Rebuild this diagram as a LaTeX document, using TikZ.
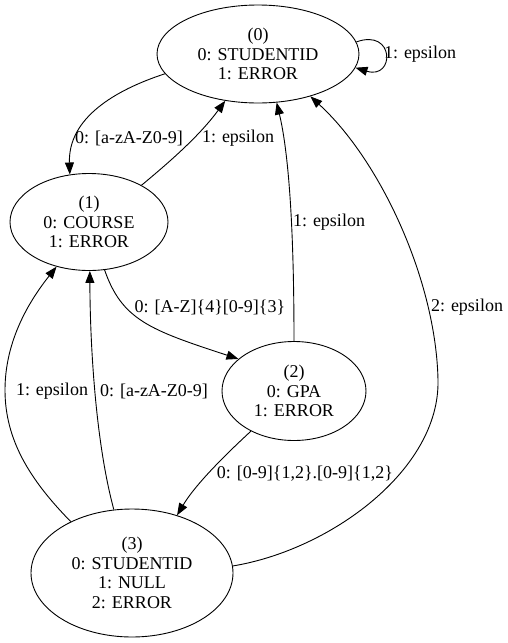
\documentclass[tikz,border=0pt]{standalone}
\usepackage{fontspec}
\setmainfont{Liberation Serif}
\usetikzlibrary{arrows.meta,shapes.geometric}

\begin{document}
\begin{tikzpicture}[x=1pt, y=-1pt, line width=0.9pt,
  state/.style={draw, ellipse, inner sep=0pt, align=center,
                font=\fontsize{18}{19.5}\selectfont},
  lab/.style={inner sep=0pt, font=\fontsize{18}{19.5}\selectfont},
  >={Triangle[length=12pt, width=9pt]}]
  \useasboundingbox (0,0) rectangle (508,643);
  % 状態
  \node[state, minimum width=202pt, minimum height=98pt]  (s0) at (258, 54)  {(0)\\0: STUDENTID\\1: ERROR};
  \node[state, minimum width=158pt, minimum height=97pt]  (s1) at (89, 222)  {(1)\\0: COURSE\\1: ERROR};
  \node[state, minimum width=144pt, minimum height=99pt]  (s2) at (294, 391) {(2)\\0: GPA\\1: ERROR};
  \node[state, minimum width=202pt, minimum height=128pt] (s3) at (132, 573) {(3)\\0: STUDENTID\\1: NULL\\2: ERROR};
  % 遷移
  \draw[->] (s0.7) .. controls (395, 28) and (395, 80) .. (s0.-8);
  \draw[->] (s0.192) .. controls (115, 90) and (68, 118) .. (s1.112);
  \draw[->] (s1.35) .. controls (172, 160) and (200, 135) .. (s0.235);
  \draw[->] (s2.90) .. controls (294, 220) and (288, 150) .. (s0.291);
  \draw[->] (s3.4) .. controls (330, 550) and (440, 470) .. (438, 380)
                   .. controls (436, 280) and (380, 160) .. (s0.321);
  \draw[->] (s1.288) .. controls (122, 320) and (150, 330) .. (s2.150);
  \draw[->] (s3.140) .. controls (30, 480) and (5, 440) .. (5, 390)
                     .. controls (5, 340) and (30, 300) .. (s1.234);
  \draw[->] (s3.106) .. controls (95, 440) and (90, 340) .. (s1.271);
  \draw[->] (s2.223) .. controls (225, 455) and (195, 485) .. (s3.52);
  % ラベル
  \node[lab] (l00) at (420, 54)  {1: epsilon};
  \node[lab] (l01) at (129, 138) {0: [a-zA-Z0-9]};
  \node[lab] (l10) at (238, 138) {1: epsilon};
  \node[lab] (l20) at (329, 222) {1: epsilon};
  \node[lab] (l30) at (467, 307) {2: epsilon};
  \node[lab] (l12) at (210, 307) {0: [A-Z]\{4\}[0-9]\{3\}};
  \node[lab] (l31a) at (52, 391) {1: epsilon};
  \node[lab] (l31b) at (154, 391) {0: [a-zA-Z0-9]};
  \node[lab] (l23) at (305, 474) {0: [0-9]\{1,2\}.[0-9]\{1,2\}};
\end{tikzpicture}
\end{document}
